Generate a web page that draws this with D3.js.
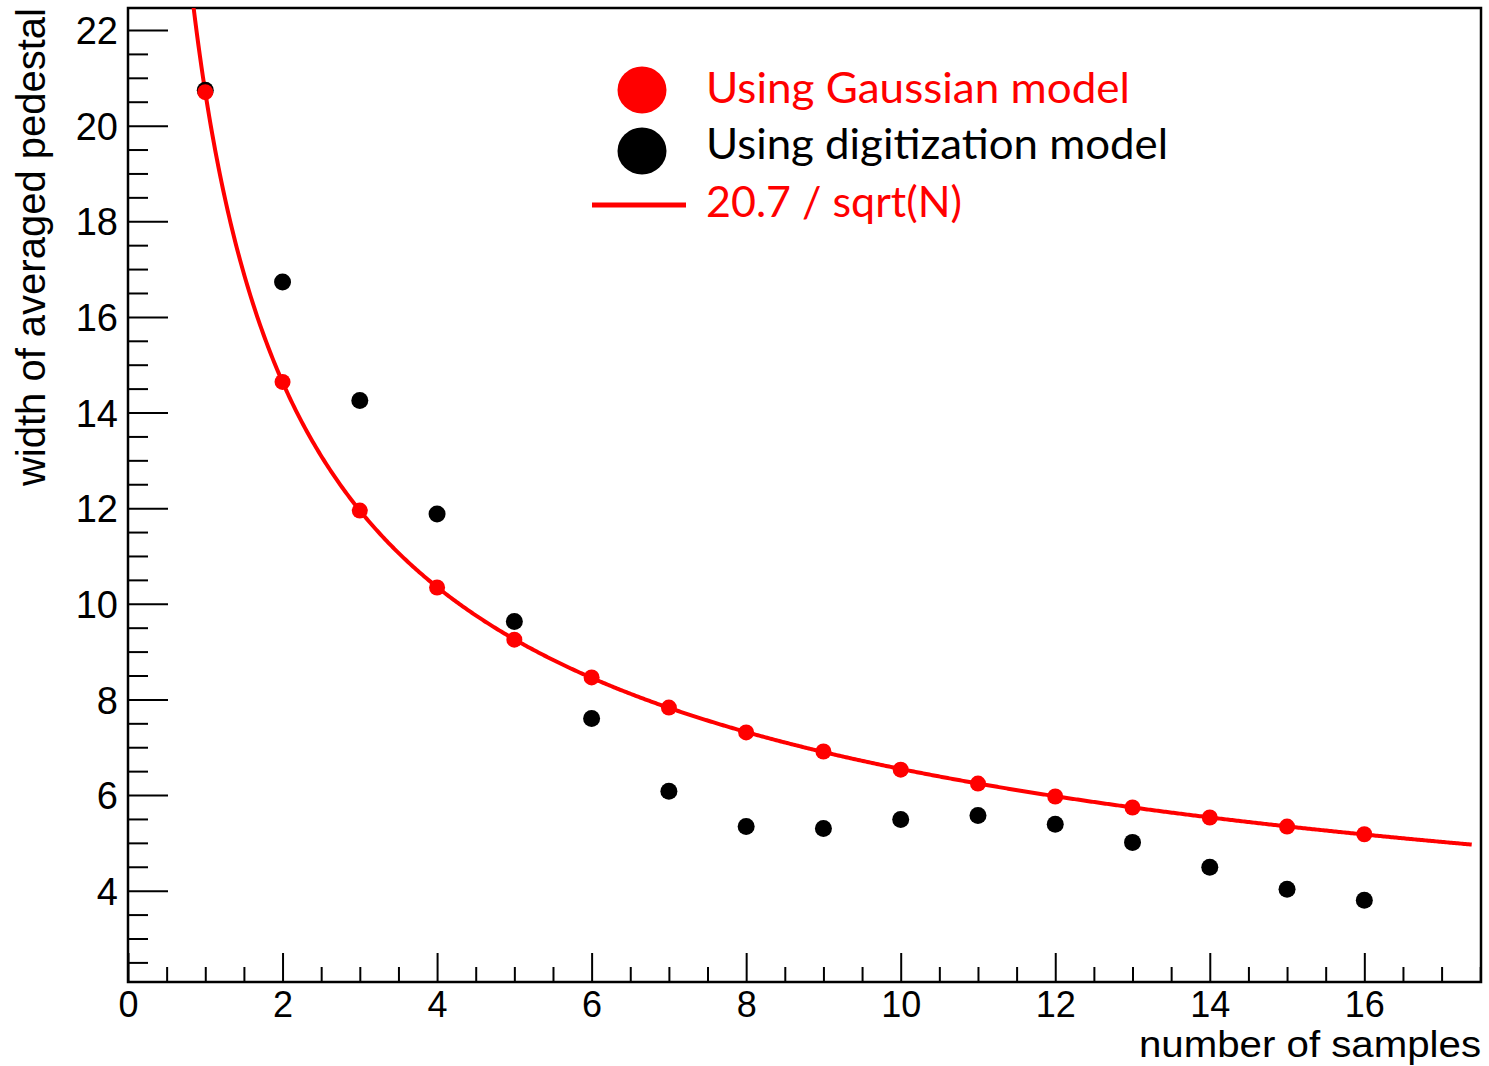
<!DOCTYPE html>
<html>
<head>
<meta charset="utf-8">
<script src="https://cdn.jsdelivr.net/npm/d3@7"></script>
<style>
  html, body { margin: 0; padding: 0; background: #fff; }
  svg { display: block; }
</style>
</head>
<body>
<svg id="chart" width="1489" height="1066"></svg>
<script>
// ---- data ----
const samples = [1,2,3,4,5,6,7,8,9,10,11,12,13,14,15,16];
const gaussianWidth = [20.70,14.64,11.95,10.34,9.25,8.46,7.83,7.31,6.91,6.53,6.24,5.97,5.74,5.53,5.34,5.18];
const digitizationWidth = [20.74,16.73,14.25,11.88,9.63,7.60,6.08,5.34,5.30,5.49,5.57,5.39,5.01,4.49,4.03,3.80];
const fitCoefficient = 20.7;           // curve: 20.7 / sqrt(N)
const fitRange = [0.75, 17.4];
const xTicks = [0,2,4,6,8,10,12,14,16];
const yTicks = [4,6,8,10,12,14,16,18,20,22];
const legendLabels = ["Using Gaussian model", "Using digitization model", "20.7 / sqrt(N)"];
const xTitle = "number of samples";
const yTitle = "width of averaged pedestal";

// ---- layout ----
const L = 128, R = 1481, T = 8, B = 982;
const svg = d3.select("#chart");
const x = d3.scaleLinear().domain([0, 17.51]).range([L, R]);
const y = d3.scaleLinear().domain([2.09, 22.46]).range([B, T]);

svg.append("defs").append("clipPath").attr("id","clip")
  .append("rect").attr("x",L).attr("y",T).attr("width",R-L).attr("height",B-T);

const axisFont = "'Liberation Sans', Arial, Helvetica, sans-serif";

// minor ticks
const xMinor = d3.range(0, 17.51, 0.5).filter(v => !xTicks.includes(v));
const yMinor = d3.range(2.5, 22.46, 0.5).filter(v => !yTicks.includes(v));

// x axis ticks (pointing up, inside)
const xAxis = d3.axisBottom(x).tickValues(xTicks).tickSizeInner(-29).tickSizeOuter(0).tickFormat(d3.format("d"));
const gx = svg.append("g").attr("transform",`translate(0,${B})`).call(xAxis);
gx.select(".domain").remove();
gx.selectAll(".tick line").attr("stroke","#000").attr("stroke-width",2);
gx.selectAll(".tick text").attr("y",35).attr("dy","0").attr("font-family",axisFont).attr("font-size",36).attr("fill","#000");
const xAxisMinor = d3.axisBottom(x).tickValues(xMinor).tickSizeInner(-15).tickSizeOuter(0).tickFormat("");
const gxm = svg.append("g").attr("transform",`translate(0,${B})`).call(xAxisMinor);
gxm.select(".domain").remove();
gxm.selectAll(".tick line").attr("stroke","#000").attr("stroke-width",2);

// y axis ticks (pointing right, inside)
const yAxis = d3.axisLeft(y).tickValues(yTicks).tickSizeInner(-40).tickSizeOuter(0).tickFormat(d3.format("d"));
const gy = svg.append("g").attr("transform",`translate(${L},0)`).call(yAxis);
gy.select(".domain").remove();
gy.selectAll(".tick line").attr("stroke","#000").attr("stroke-width",2);
gy.selectAll(".tick text").attr("x",-10).attr("dy","0.36em").attr("font-family",axisFont).attr("font-size",38).attr("fill","#000");
const yAxisMinor = d3.axisLeft(y).tickValues(yMinor).tickSizeInner(-20).tickSizeOuter(0).tickFormat("");
const gym = svg.append("g").attr("transform",`translate(${L},0)`).call(yAxisMinor);
gym.select(".domain").remove();
gym.selectAll(".tick line").attr("stroke","#000").attr("stroke-width",2);

// frame
svg.append("rect").attr("x",L).attr("y",T).attr("width",R-L).attr("height",B-T)
  .attr("fill","none").attr("stroke","#000").attr("stroke-width",2.5);

// fit curve
const curveN = d3.range(fitRange[0], fitRange[1] + 1e-9, 0.02);
const line = d3.line().x(d => x(d)).y(d => y(fitCoefficient / Math.sqrt(d))).curve(d3.curveLinear);
svg.append("path").datum(curveN).attr("d",line).attr("fill","none")
  .attr("stroke","#ff0000").attr("stroke-width",4).attr("clip-path","url(#clip)");

// digitization points (black)
svg.append("g").selectAll("circle").data(samples).join("circle")
  .attr("cx",(d)=>x(d)).attr("cy",(d,i)=>y(digitizationWidth[i])).attr("r",8.5).attr("fill","#000");

// gaussian points (red)
svg.append("g").selectAll("circle").data(samples).join("circle")
  .attr("cx",(d)=>x(d)).attr("cy",(d,i)=>y(gaussianWidth[i])).attr("r",8).attr("fill","#ff0000");

// axis titles
svg.append("text").attr("x",R).attr("y",1057).attr("text-anchor","end")
  .attr("font-family",axisFont).attr("font-size",36)
  .attr("textLength",342).attr("lengthAdjust","spacingAndGlyphs")
  .attr("fill","#000").text(xTitle);
svg.append("text").attr("transform",`translate(45,${T}) rotate(-90)`).attr("text-anchor","end")
  .attr("font-family",axisFont).attr("font-size",40).attr("fill","#000").text(yTitle);

// legend
const legFont = "Lato, 'Open Sans', sans-serif";
const leg = svg.append("g");
leg.append("ellipse").attr("cx",642).attr("cy",90).attr("rx",24.5).attr("ry",23.5).attr("fill","#ff0000");
leg.append("ellipse").attr("cx",642).attr("cy",151).attr("rx",24.5).attr("ry",23.5).attr("fill","#000");
leg.append("line").attr("x1",592).attr("x2",686).attr("y1",205).attr("y2",205).attr("stroke","#ff0000").attr("stroke-width",5);
const legColors = ["#ff0000","#000","#ff0000"];
const legY = [103,159,217];
const legWidth = [424, 462, 256];
legendLabels.forEach((t,i)=>{
  leg.append("text").attr("x",706).attr("y",legY[i]).attr("font-family",legFont).attr("font-size",43)
    .attr("textLength",legWidth[i]).attr("lengthAdjust","spacingAndGlyphs")
    .attr("fill",legColors[i]).text(t);
});
</script>
</body>
</html>
